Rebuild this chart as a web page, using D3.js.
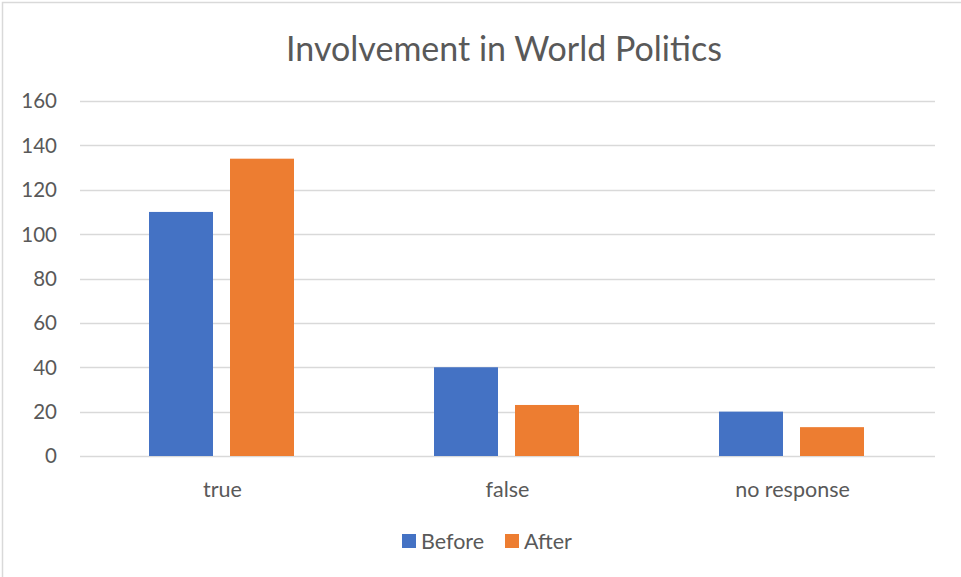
<!DOCTYPE html>
<html>
<head>
<meta charset="utf-8">
<script src="https://cdn.jsdelivr.net/npm/d3@7"></script>
<style>
  html, body { margin: 0; padding: 0; background: #fff; }
  svg { display: block; font-family: Lato, "Open Sans", sans-serif; }
</style>
</head>
<body>
<svg id="chart" width="961" height="577"></svg>
<script>
// Survey answers before and after
const categories = ["true", "false", "no response"];
const seriesNames = ["Before", "After"];
const beforeValues = [110, 40, 20];
const afterValues = [134, 23, 13];
const yTicks = [0, 20, 40, 60, 80, 100, 120, 140, 160];
const colors = ["#4472C4", "#ED7D31"];

const svg = d3.select("#chart");
const W = 961, H = 577;
const plot = { left: 80, right: 935, top: 101, bottom: 456 };

// outer frame (left and top edges visible)
svg.append("rect").attr("x", 0).attr("y", 0).attr("width", W).attr("height", H).attr("fill", "#fff");
svg.append("path")
  .attr("d", `M2.5,577 V2.5 H961`)
  .attr("fill", "none").attr("stroke", "#d9d9d9").attr("stroke-width", 1.5);

const x = d3.scaleBand().domain(categories).range([plot.left, plot.right]).paddingInner(0).paddingOuter(0);
const xInner = d3.scaleBand().domain(seriesNames).range([69, x.bandwidth() - 71]).paddingInner(0.21).paddingOuter(0);
const y = d3.scaleLinear().domain([0, 160]).range([plot.bottom, plot.top]);

// gridlines
svg.append("g").selectAll("line").data(yTicks).join("line")
  .attr("x1", plot.left).attr("x2", plot.right)
  .attr("y1", d => Math.round(y(d)) + 0.5).attr("y2", d => Math.round(y(d)) + 0.5)
  .attr("stroke", "#d9d9d9").attr("stroke-width", 1.3);

// y tick labels
svg.append("g").selectAll("text").data(yTicks).join("text")
  .attr("x", 57).attr("y", d => y(d))
  .attr("dy", "0.36em")
  .attr("text-anchor", "end")
  .attr("font-size", 20.5).attr("fill", "#595959")
  .text(d => d);

// bars
const rows = categories.map((c, i) => ({ cat: c, values: [beforeValues[i], afterValues[i]] }));
const groups = svg.append("g").selectAll("g").data(rows).join("g")
  .attr("transform", d => `translate(${x(d.cat)},0)`);
groups.selectAll("rect").data(d => d.values.map((v, j) => ({ name: seriesNames[j], v, j })))
  .join("rect")
  .attr("x", d => xInner(d.name))
  .attr("width", xInner.bandwidth())
  .attr("y", d => y(d.v))
  .attr("height", d => y(0) - y(d.v))
  .attr("fill", d => colors[d.j]);

// category labels
svg.append("g").selectAll("text").data(categories).join("text")
  .attr("x", d => x(d) + x.bandwidth() / 2)
  .attr("y", 497)
  .attr("text-anchor", "middle")
  .attr("font-size", 21.5).attr("fill", "#595959")
  .text(d => d);

// title
svg.append("text")
  .attr("x", 504).attr("y", 61)
  .attr("text-anchor", "middle")
  .attr("font-size", 34).attr("fill", "#595959")
  .text("Involvement in World Politics");

// legend
const legendItems = [
  { name: "Before", sx: 402, tx: 421 },
  { name: "After", sx: 505, tx: 524 }
];
const lg = svg.append("g");
lg.selectAll("rect").data(legendItems).join("rect")
  .attr("x", d => d.sx).attr("y", 534).attr("width", 14).attr("height", 14)
  .attr("fill", (d, i) => colors[i]);
lg.selectAll("text").data(legendItems).join("text")
  .attr("x", d => d.tx).attr("y", 541)
  .attr("dy", "0.36em")
  .attr("font-size", 21.5).attr("fill", "#595959")
  .text(d => d.name);
</script>
</body>
</html>
